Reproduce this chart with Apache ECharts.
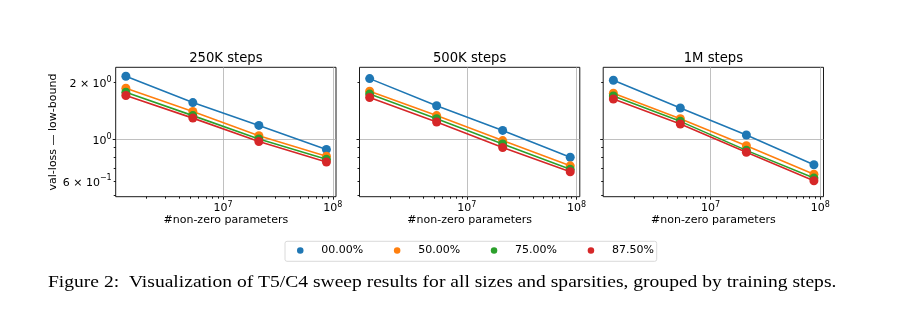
<!DOCTYPE html>
<html><head><meta charset="utf-8">
<script src="https://cdn.jsdelivr.net/npm/echarts@6/dist/echarts.min.js"></script>
<style>html,body{margin:0;padding:0;background:#fff}#c{width:921px;height:326px}</style>
</head><body><div id="c"></div>
<script>
// ---- data ----
const panelTitles = ['250K steps', '500K steps', '1M steps'];
const sparsities = ['00.00%', '50.00%', '75.00%', '87.50%'];
const params = [1.3e6, 5.3e6, 2.12e7, 8.75e7];

const s250K_00 = [2.15, 1.56, 1.18, 0.88];
const s250K_50 = [1.86, 1.40, 1.04, 0.81];
const s250K_75 = [1.77, 1.33, 1.00, 0.78];
const s250K_87 = [1.70, 1.29, 0.97, 0.755];

const s500K_00 = [2.09, 1.50, 1.11, 0.80];
const s500K_50 = [1.79, 1.33, 0.98, 0.72];
const s500K_75 = [1.73, 1.28, 0.94, 0.69];
const s500K_87 = [1.66, 1.23, 0.90, 0.67];

const s1M_00 = [2.05, 1.46, 1.05, 0.73];
const s1M_50 = [1.75, 1.28, 0.92, 0.65];
const s1M_75 = [1.69, 1.24, 0.87, 0.62];
const s1M_87 = [1.63, 1.20, 0.85, 0.60];

const xMajorTicks = [1e7, 1e8];
const xMinorTicks = [2e6, 3e6, 4e6, 5e6, 6e6, 7e6, 8e6, 9e6, 2e7, 3e7, 4e7, 5e7, 6e7, 7e7, 8e7, 9e7];
const yMajorTicks = [1];
const yMinorTicks = [0.5, 0.6, 0.7, 0.8, 0.9, 2];
const yLabelTicks = [0.6, 1, 2];

// ---- layout / style ----
const panels = [
  [s250K_00, s250K_50, s250K_75, s250K_87],
  [s500K_00, s500K_50, s500K_75, s500K_87],
  [s1M_00, s1M_50, s1M_75, s1M_87]
];
const colors = ['#1f77b4', '#ff7f0e', '#2ca02c', '#d62728'];
const X_MIN = 1.05e6, X_MAX = 1.07e8, Y_MIN = 0.494, Y_MAX = 2.40;
const gridLefts = [115.7, 359.5, 603.2];
const GW = 220.3, GT = 67.3, GH = 129.4;
const FONT = 'DejaVu Sans';
const tickLine = { color: '#000', width: 0.9 };
const richX = {
  b: { fontSize: 11, fontFamily: FONT, color: '#000' },
  s: { fontSize: 8, fontFamily: FONT, color: '#000', padding: [0, 0, 7, 0] }
};
const richY = {
  b: { fontSize: 11, fontFamily: FONT, color: '#000', padding: [4, 0, 0, 0] },
  s: { fontSize: 8, fontFamily: FONT, color: '#000', padding: [0, 0, 5, 0] }
};

function xFmt(v) { return '{b|10}{s|' + Math.round(Math.log10(v)) + '}'; }
function yFmt(v) {
  const e = Math.floor(Math.log10(v) + 1e-9);
  const m = Math.round(v / Math.pow(10, e));
  return '{b|' + (m === 1 ? '' : m + ' × ') + '10}{s|' + String(e).replace('-', '−') + '}';
}

const grid = [], xAxis = [], yAxis = [], series = [], graphic = [];
gridLefts.forEach((left, p) => {
  grid.push({ left: left, top: GT, width: GW, height: GH, show: true, borderColor: '#000', borderWidth: 0.9,
              backgroundColor: 'transparent', containLabel: false, outerBoundsMode: 'none' });
  xAxis.push({
    type: 'log', logBase: 10, gridIndex: p, min: X_MIN, max: X_MAX, position: 'bottom',
    axisLine: { show: false },
    axisTick: { show: true, length: 3, lineStyle: tickLine, customValues: xMajorTicks },
    axisLabel: { show: true, customValues: xMajorTicks, formatter: xFmt, margin: 4, rich: richX },
    splitLine: { show: true, lineStyle: { color: '#b0b0b0', width: 0.8 } },
    minorTick: { show: false }, minorSplitLine: { show: false },
    name: '#non-zero parameters', nameLocation: 'middle', nameGap: 18,
    nameTextStyle: { fontSize: 11, fontFamily: FONT, color: '#000', verticalAlign: 'top' }
  });
  xAxis.push({
    type: 'log', logBase: 10, gridIndex: p, min: X_MIN, max: X_MAX, position: 'bottom',
    axisLine: { show: false },
    axisTick: { show: true, length: 2, lineStyle: tickLine, customValues: xMinorTicks },
    axisLabel: { show: false }, splitLine: { show: false }
  });
  yAxis.push({
    type: 'log', logBase: 10, gridIndex: p, min: Y_MIN, max: Y_MAX, position: 'left',
    axisLine: { show: false },
    axisTick: { show: true, length: 3, lineStyle: tickLine, customValues: yMajorTicks },
    axisLabel: { show: p === 0, customValues: yLabelTicks, formatter: yFmt, margin: 4, rich: richY },
    splitLine: { show: true, lineStyle: { color: '#b0b0b0', width: 0.8 } },
    minorTick: { show: false },
    name: p === 0 ? 'val-loss — low-bound' : '', nameLocation: 'middle', nameGap: 54,
    nameTextStyle: { fontSize: 11, fontFamily: FONT, color: '#000' }
  });
  yAxis.push({
    type: 'log', logBase: 10, gridIndex: p, min: Y_MIN, max: Y_MAX, position: 'left',
    axisLine: { show: false },
    axisTick: { show: true, length: 2, lineStyle: tickLine, customValues: yMinorTicks },
    axisLabel: { show: false }, splitLine: { show: false }
  });
  panels[p].forEach((vals, k) => {
    series.push({
      type: 'line', name: sparsities[k], xAxisIndex: 2 * p, yAxisIndex: 2 * p,
      data: params.map((x, j) => [x, vals[j]]),
      symbol: 'circle', symbolSize: 9, showSymbol: true,
      lineStyle: { width: 1.6, color: colors[k] }, itemStyle: { color: colors[k] },
      emphasis: { disabled: true }, animation: false, z: 3 + k
    });
  });
  graphic.push({
    type: 'text', x: left + GW / 2, y: 58.5,
    style: { text: panelTitles[p], fill: '#000', font: '13.2px "' + FONT + '"',
             align: 'center', verticalAlign: 'middle', textAlign: 'center', textVerticalAlign: 'middle' }
  });
});

graphic.push({
  type: 'rect', z: 0,
  shape: { x: 285, y: 241.3, width: 371.7, height: 20, r: 2 },
  style: { fill: '#fff', stroke: '#d0d0d0', lineWidth: 0.8 }
});
graphic.push({
  type: 'text', x: 48, y: 283, scaleX: 1.185,
  style: { text: 'Figure 2:  Visualization of T5/C4 sweep results for all sizes and sparsities, grouped by training steps.',
           fill: '#000', font: '16.5px "Liberation Serif"', align: 'left', verticalAlign: 'middle',
           textAlign: 'left', textVerticalAlign: 'middle' }
});

const chart = echarts.init(document.getElementById('c'), null, { renderer: 'canvas' });
chart.setOption({
  animation: false,
  backgroundColor: '#fff',
  grid, xAxis, yAxis, series, graphic,
  legend: {
    data: sparsities, left: 297, top: 245, padding: 0, icon: 'circle',
    itemWidth: 32, itemHeight: 6.5, itemGap: 30.7, selectedMode: false,
    textStyle: { fontSize: 11, fontFamily: FONT, color: '#000' }
  }
});
</script></body></html>
